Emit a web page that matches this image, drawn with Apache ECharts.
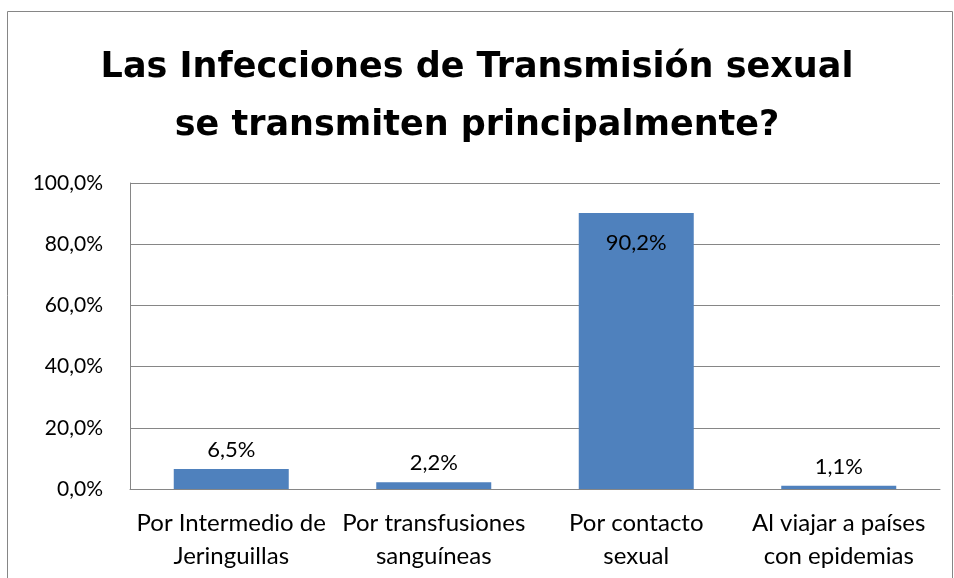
<!DOCTYPE html>
<html>
<head>
<meta charset="utf-8">
<script src="https://cdn.jsdelivr.net/npm/echarts@6/dist/echarts.min.js"></script>
<style>
  html, body { margin: 0; padding: 0; background: #fff; }
  #chart { width: 954px; height: 578px; }
</style>
</head>
<body>
<div id="chart"></div>
<script>
var categories = ['Por Intermedio de\nJeringuillas', 'Por transfusiones\nsanguíneas', 'Por contacto\nsexual', 'Al viajar a países\ncon epidemias'];
var values = [0.065, 0.022, 0.902, 0.011];
var titleText = 'Las Infecciones de Transmisión sexual\nse transmiten principalmente?';

function pct(v) {
  return (v * 100).toFixed(1).replace('.', ',') + '%';
}

var mychart = echarts.init(document.getElementById('chart'));
mychart.setOption({
  animation: false,
  textStyle: { fontFamily: 'Lato' },
  graphic: [{
    type: 'rect',
    shape: { x: 7.5, y: 11.5, width: 945, height: 600 },
    style: { fill: 'none', stroke: '#868686', lineWidth: 1 }
  }],
  title: {
    text: titleText,
    left: 'center',
    top: 34,
    textStyle: { fontFamily: 'DejaVu Sans', fontWeight: 'bold', fontSize: 35, lineHeight: 58, color: '#000' }
  },
  grid: { left: 130, right: 14, top: 183, bottom: 89 },
  xAxis: {
    type: 'category',
    data: categories,
    axisTick: { show: false },
    axisLine: { lineStyle: { color: '#868686' } },
    axisLabel: { color: '#000', fontSize: 24, lineHeight: 33, margin: 18, interval: 0 }
  },
  yAxis: {
    type: 'value',
    min: 0,
    max: 1,
    interval: 0.2,
    axisLine: { show: true, lineStyle: { color: '#868686' } },
    axisTick: { show: false },
    splitLine: { lineStyle: { color: '#868686' } },
    axisLabel: { color: '#000', fontSize: 21, margin: 27, formatter: pct }
  },
  series: [{
    type: 'bar',
    data: values.map(function (v, i) {
      return {
        value: v,
        label: i === 2 ? { position: 'insideTop', distance: 19 } : { position: 'top', distance: 8 }
      };
    }),
    barWidth: 115,
    itemStyle: { color: '#4F81BD' },
    label: {
      show: true,
      color: '#000',
      fontSize: 22,
      formatter: function (p) { return pct(p.value); }
    }
  }]
});
</script>
</body>
</html>
